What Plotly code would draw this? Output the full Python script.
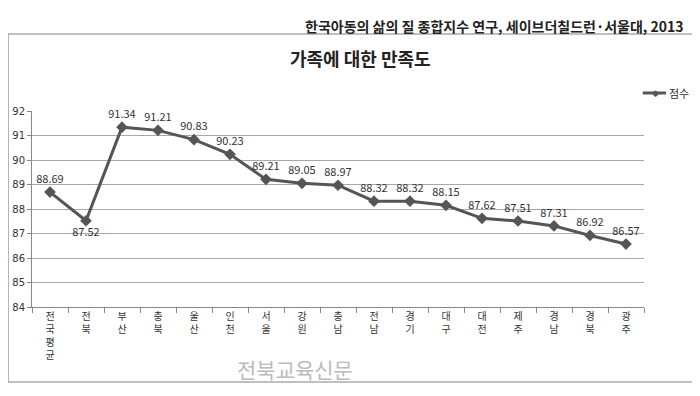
import plotly.graph_objects as go

categories = ["전국평균", "전북", "부산", "충북", "울산", "인천", "서울", "강원", "충남",
              "전남", "경기", "대구", "대전", "제주", "경남", "경북", "광주"]
scores = [88.69, 87.52, 91.34, 91.21, 90.83, 90.23, 89.21, 89.05, 88.97,
          88.32, 88.32, 88.15, 87.62, 87.51, 87.31, 86.92, 86.57]
y_ticks = [84, 85, 86, 87, 88, 89, 90, 91, 92]
series_name = "점수"
title = "가족에 대한 만족도"
source = "한국아동의 삶의 질 종합지수 연구, 세이브더칠드런·서울대, 2013"
watermark = "전북교육신문"

FONT = "Noto Sans CJK KR"
LINE = "#555555"
vertical_labels = ["<br>".join(list(c)) for c in categories]
label_pos = ["bottom center" if i == 1 else "top center" for i in range(len(scores))]

fig = go.Figure()
fig.add_trace(go.Scatter(
    x=categories, y=scores, mode="lines+markers+text", name=series_name,
    line=dict(color=LINE, width=3),
    marker=dict(symbol="diamond", size=9, color=LINE),
    text=[f"{v:.2f}" for v in scores], textposition=label_pos,
    textfont=dict(family=FONT, size=11, color="#333333"),
    cliponaxis=False, showlegend=False,
))

fig.update_layout(
    width=700, height=396,
    margin=dict(l=24, r=64, t=103, b=97, autoexpand=False),
    paper_bgcolor="white", plot_bgcolor="white",
    font=dict(family=FONT, color="#333333"),
    showlegend=False,
    xaxis=dict(
        type="category", tickmode="array", tickvals=categories, ticktext=vertical_labels,
        tickson="boundaries", ticks="outside", ticklen=5, tickcolor="#888888",
        showline=True, linecolor="#888888", linewidth=1,
        showgrid=False, tickfont=dict(family=FONT, size=10, color="#333333"),
        range=[-0.5, len(categories) - 0.5], automargin=False,
    ),
    yaxis=dict(
        range=[84, 92], tickvals=y_ticks, ticks="outside", ticklen=4, tickcolor="#888888",
        showline=True, linecolor="#888888", linewidth=1,
        showgrid=True, gridcolor="#a8a8a8", gridwidth=1,
        tickfont=dict(family="DejaVu Sans", size=10, color="#333333"),
        zeroline=False, automargin=False,
    ),
    shapes=[
        dict(type="rect", xref="paper", yref="paper",
             x0=-0.039, x1=1.2, y0=-0.383, y1=1.393,
             line=dict(color="#aaaaaa", width=1.5), layer="below"),
        dict(type="line", xref="paper", yref="paper",
             x0=0.998, x1=1.036, y0=1.092, y1=1.092,
             line=dict(color=LINE, width=3)),
    ],
    annotations=[
        dict(text="◆", xref="paper", yref="paper", x=1.018, y=1.092,
             xanchor="center", yanchor="middle", showarrow=False,
             font=dict(family="DejaVu Sans", size=9, color=LINE)),
        dict(text=series_name, xref="paper", yref="paper", x=1.0376, y=1.092,
             xanchor="left", yanchor="middle", showarrow=False,
             font=dict(family=FONT, size=11, color="#333333")),
        dict(text=f"<b>{title}</b>", xref="paper", yref="paper", x=0.536, y=1.27,
             xanchor="center", yanchor="middle", showarrow=False,
             font=dict(family=FONT, size=18, color="#222222")),
        dict(text=f"<b>{source}</b>", xref="paper", yref="paper", x=1.069, y=1.434,
             xanchor="right", yanchor="middle", showarrow=False,
             font=dict(family=FONT, size=14, color="#222222")),
        dict(text=watermark, xref="paper", yref="paper", x=0.43, y=-0.316,
             xanchor="center", yanchor="middle", showarrow=False,
             font=dict(family=FONT, size=21, color="#bbbbbb")),
    ],
)

fig.write_html("out.html")
